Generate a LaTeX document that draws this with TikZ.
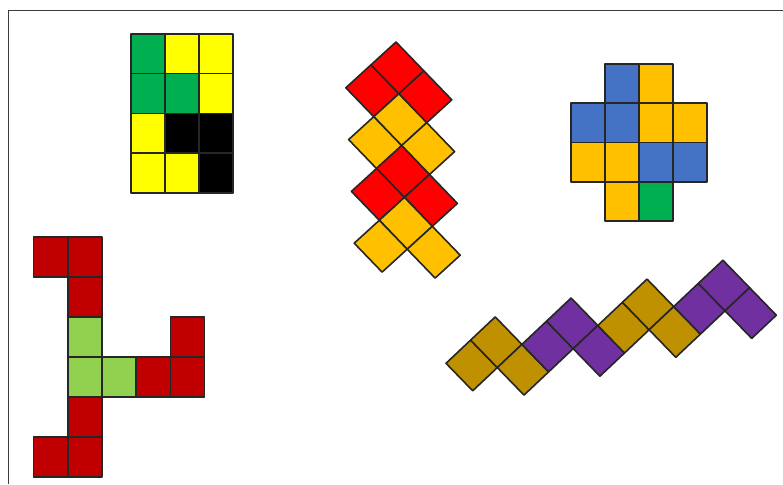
\documentclass[tikz,border=0pt]{standalone}
\usepackage{tikz}
\definecolor{pgreen}{RGB}{0,176,80}
\definecolor{pyellow}{RGB}{255,255,0}
\definecolor{pblue}{RGB}{68,114,196}
\definecolor{pamber}{RGB}{255,192,0}
\definecolor{pdarkred}{RGB}{192,0,0}
\definecolor{plime}{RGB}{146,208,80}
\definecolor{pred}{RGB}{255,0,0}
\definecolor{pgold}{RGB}{191,144,0}
\definecolor{ppurple}{RGB}{112,48,160}
\definecolor{pframe}{RGB}{60,60,60}
\newcommand{\pcell}[3]{\draw[cell, fill=#3] (#1,#2) -- ++(1,0) -- ++(0,1) -- ++(-1,0) -- cycle;}

\begin{document}
\begin{tikzpicture}[
  x=1pt, y=-1pt,
  cell/.style={draw=black!85, line width=1.6pt, line join=round},
  frame/.style={draw=pframe, line width=0.9pt}
]
\useasboundingbox (0,0) rectangle (783,484);
\draw[frame] (8,484) -- (8,10.5) -- (783,10.5);

\begin{scope}[shift={(131pt,-34pt)}, x={(34pt,0pt)}, y={(0pt,-39.7pt)}]
\foreach \c/\r/\col in {0/0/pgreen, 1/0/pyellow, 2/0/pyellow,
    0/1/pgreen, 1/1/pgreen, 2/1/pyellow,
    0/2/pyellow, 1/2/black, 2/2/black,
    0/3/pyellow, 1/3/pyellow, 2/3/black}
  {\pcell{\c}{\r}{\col}}
\end{scope}

\begin{scope}[shift={(396pt,-42pt)}, x={(27.9pt,-28.9pt)}, y={(-25.1pt,-22.9pt)}]
\foreach \c/\r/\col in {0/0/pred, 1/0/pred, 0/1/pred,
    1/1/pamber, 2/1/pamber, 1/2/pamber,
    2/2/pred, 3/2/pred, 2/3/pred,
    3/3/pamber, 4/3/pamber, 3/4/pamber}
  {\pcell{\c}{\r}{\col}}
\end{scope}

\begin{scope}[shift={(571pt,-64pt)}, x={(34pt,0pt)}, y={(0pt,-39.3pt)}]
\foreach \c/\r/\col in {1/0/pblue, 2/0/pamber,
    0/1/pblue, 1/1/pblue, 2/1/pamber, 3/1/pamber,
    0/2/pamber, 1/2/pamber, 2/2/pblue, 3/2/pblue,
    1/3/pamber, 2/3/pgreen}
  {\pcell{\c}{\r}{\col}}
\end{scope}

\begin{scope}[shift={(33.5pt,-237pt)}, x={(34.2pt,0pt)}, y={(0pt,-40pt)}]
\foreach \c/\r/\col in {0/0/pdarkred, 1/0/pdarkred, 1/1/pdarkred,
    1/2/plime, 4/2/pdarkred,
    1/3/plime, 2/3/plime, 3/3/pdarkred, 4/3/pdarkred,
    1/4/pdarkred, 0/5/pdarkred, 1/5/pdarkred}
  {\pcell{\c}{\r}{\col}}
\end{scope}

\begin{scope}[shift={(446pt,-363.3pt)}, x={(24.6pt,23.2pt)}, y={(26.7pt,-27.5pt)}]
\foreach \c/\r/\col in {0/0/pgold, 1/0/pgold, 1/1/pgold,
    2/1/ppurple, 3/1/ppurple, 3/2/ppurple,
    4/2/pgold, 5/2/pgold, 5/3/pgold,
    6/3/ppurple, 7/3/ppurple, 7/4/ppurple}
  {\pcell{\c}{\r}{\col}}
\end{scope}
\end{tikzpicture}
\end{document}
